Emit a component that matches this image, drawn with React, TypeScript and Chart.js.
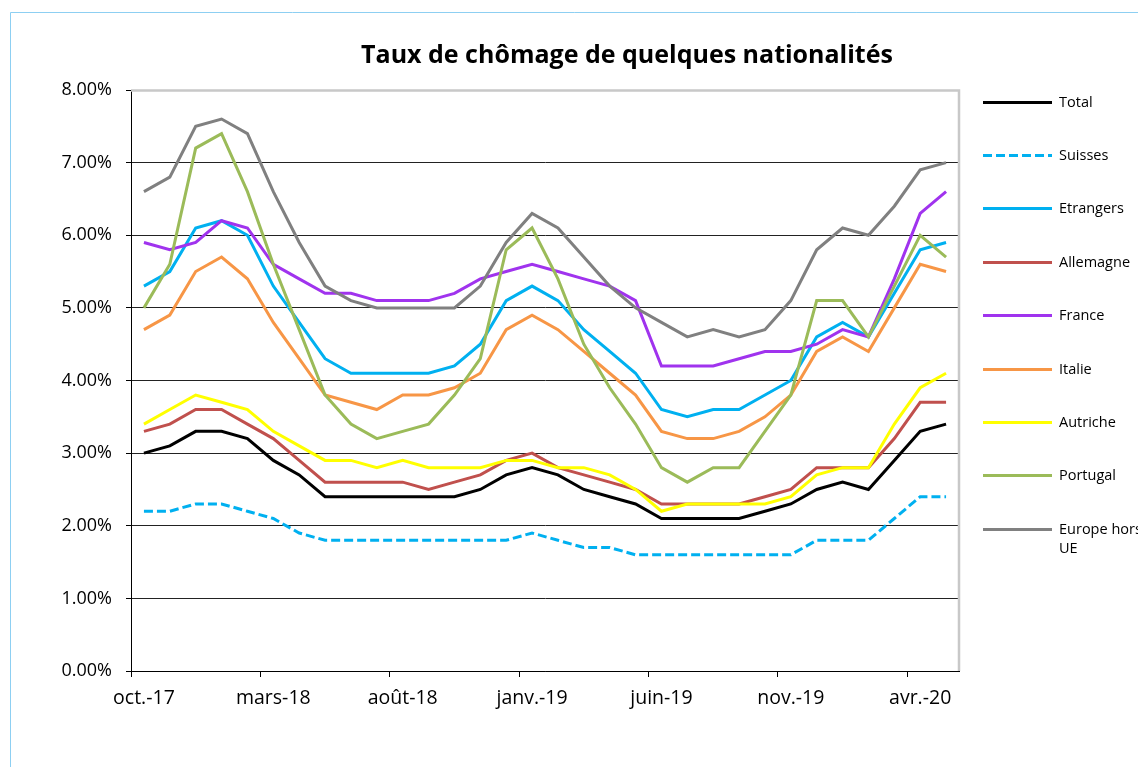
import React, { useEffect, useRef } from 'react';
import { Chart, registerables } from 'chart.js';

Chart.register(...registerables);

const months = [
  'oct.-17', 'nov.-17', 'déc.-17',
  'janv.-18', 'févr.-18', 'mars-18', 'avr.-18', 'mai-18', 'juin-18', 'juil.-18', 'août-18', 'sept.-18', 'oct.-18', 'nov.-18', 'déc.-18',
  'janv.-19', 'févr.-19', 'mars-19', 'avr.-19', 'mai-19', 'juin-19', 'juil.-19', 'août-19', 'sept.-19', 'oct.-19', 'nov.-19', 'déc.-19',
  'janv.-20', 'févr.-20', 'mars-20', 'avr.-20', 'mai-20',
];

const total = [3.0, 3.1, 3.3, 3.3, 3.2, 2.9, 2.7, 2.4, 2.4, 2.4, 2.4, 2.4, 2.4, 2.5, 2.7, 2.8, 2.7, 2.5, 2.4, 2.3, 2.1, 2.1, 2.1, 2.1, 2.2, 2.3, 2.5, 2.6, 2.5, 2.9, 3.3, 3.4];
const suisses = [2.2, 2.2, 2.3, 2.3, 2.2, 2.1, 1.9, 1.8, 1.8, 1.8, 1.8, 1.8, 1.8, 1.8, 1.8, 1.9, 1.8, 1.7, 1.7, 1.6, 1.6, 1.6, 1.6, 1.6, 1.6, 1.6, 1.8, 1.8, 1.8, 2.1, 2.4, 2.4];
const etrangers = [5.3, 5.5, 6.1, 6.2, 6.0, 5.3, 4.8, 4.3, 4.1, 4.1, 4.1, 4.1, 4.2, 4.5, 5.1, 5.3, 5.1, 4.7, 4.4, 4.1, 3.6, 3.5, 3.6, 3.6, 3.8, 4.0, 4.6, 4.8, 4.6, 5.2, 5.8, 5.9];
const allemagne = [3.3, 3.4, 3.6, 3.6, 3.4, 3.2, 2.9, 2.6, 2.6, 2.6, 2.6, 2.5, 2.6, 2.7, 2.9, 3.0, 2.8, 2.7, 2.6, 2.5, 2.3, 2.3, 2.3, 2.3, 2.4, 2.5, 2.8, 2.8, 2.8, 3.2, 3.7, 3.7];
const france = [5.9, 5.8, 5.9, 6.2, 6.1, 5.6, 5.4, 5.2, 5.2, 5.1, 5.1, 5.1, 5.2, 5.4, 5.5, 5.6, 5.5, 5.4, 5.3, 5.1, 4.2, 4.2, 4.2, 4.3, 4.4, 4.4, 4.5, 4.7, 4.6, 5.4, 6.3, 6.6];
const italie = [4.7, 4.9, 5.5, 5.7, 5.4, 4.8, 4.3, 3.8, 3.7, 3.6, 3.8, 3.8, 3.9, 4.1, 4.7, 4.9, 4.7, 4.4, 4.1, 3.8, 3.3, 3.2, 3.2, 3.3, 3.5, 3.8, 4.4, 4.6, 4.4, 5.0, 5.6, 5.5];
const autriche = [3.4, 3.6, 3.8, 3.7, 3.6, 3.3, 3.1, 2.9, 2.9, 2.8, 2.9, 2.8, 2.8, 2.8, 2.9, 2.9, 2.8, 2.8, 2.7, 2.5, 2.2, 2.3, 2.3, 2.3, 2.3, 2.4, 2.7, 2.8, 2.8, 3.4, 3.9, 4.1];
const portugal = [5.0, 5.6, 7.2, 7.4, 6.6, 5.6, 4.7, 3.8, 3.4, 3.2, 3.3, 3.4, 3.8, 4.3, 5.8, 6.1, 5.4, 4.5, 3.9, 3.4, 2.8, 2.6, 2.8, 2.8, 3.3, 3.8, 5.1, 5.1, 4.6, 5.3, 6.0, 5.7];
const europeHorsUE = [6.6, 6.8, 7.5, 7.6, 7.4, 6.6, 5.9, 5.3, 5.1, 5.0, 5.0, 5.0, 5.0, 5.3, 5.9, 6.3, 6.1, 5.7, 5.3, 5.0, 4.8, 4.6, 4.7, 4.6, 4.7, 5.1, 5.8, 6.1, 6.0, 6.4, 6.9, 7.0];

const seriesNames = ['Total', 'Suisses', 'Etrangers', 'Allemagne', 'France', 'Italie', 'Autriche', 'Portugal', 'Europe hors UE'];
const seriesValues = [total, suisses, etrangers, allemagne, france, italie, autriche, portugal, europeHorsUE];
const seriesColors = ['#000000', '#00B0F0', '#00B0F0', '#C0504D', '#A033EE', '#F79646', '#FFFF00', '#9BBB59', '#808080'];
const seriesDashes: number[][] = [[], [9, 4], [], [], [], [], [], [], []];
const legendLabels: string[][] = [['Total'], ['Suisses'], ['Etrangers'], ['Allemagne'], ['France'], ['Italie'], ['Autriche'], ['Portugal'], ['Europe hors', 'UE']];

const titleText = 'Taux de chômage de quelques nationalités';
const yTicks = { min: 0, max: 8, step: 1 };
const labelEvery = 5;

const FONT = "'Open Sans', 'Noto Sans', sans-serif";

const decorPlugin = {
  id: 'decor',
  beforeDraw(chart: any) {
    const ctx = chart.ctx;
    ctx.save();
    ctx.fillStyle = '#ffffff';
    ctx.fillRect(0, 0, chart.width, chart.height);
    ctx.strokeStyle = '#8DCFF2';
    ctx.lineWidth = 1;
    ctx.beginPath();
    ctx.moveTo(10.5, chart.height + 5);
    ctx.lineTo(10.5, 12.5);
    ctx.lineTo(chart.width + 5, 12.5);
    ctx.stroke();
    ctx.restore();
  },
  beforeDatasetsDraw(chart: any) {
    const ctx = chart.ctx;
    const a = chart.chartArea;
    ctx.save();
    ctx.strokeStyle = '#C8C8C8';
    ctx.lineWidth = 2.5;
    ctx.beginPath();
    ctx.moveTo(a.left, a.top + 0.5);
    ctx.lineTo(a.right, a.top + 0.5);
    ctx.lineTo(a.right, a.bottom);
    ctx.stroke();
    ctx.restore();
  },
  afterDraw(chart: any) {
    const ctx = chart.ctx;
    ctx.save();
    // title
    ctx.fillStyle = '#000';
    ctx.font = `bold 25px ${FONT}`;
    ctx.textAlign = 'center';
    ctx.textBaseline = 'alphabetic';
    ctx.fillText(titleText, 627, 63);
    // legend
    const x0 = 983, x1 = 1052, tx = 1059;
    const y0 = 101.5, dy = 53.4;
    ctx.font = `14.5px ${FONT}`;
    ctx.textAlign = 'left';
    ctx.textBaseline = 'middle';
    chart.data.datasets.forEach((ds: any, i: number) => {
      const y = Math.round(y0 + dy * i) + 0.5;
      ctx.strokeStyle = ds.borderColor;
      ctx.lineWidth = 3;
      ctx.setLineDash(ds.borderDash || []);
      ctx.beginPath();
      ctx.moveTo(x0, y);
      ctx.lineTo(x1, y);
      ctx.stroke();
      ctx.setLineDash([]);
      ctx.fillStyle = '#000';
      legendLabels[i].forEach((t, k) => ctx.fillText(t, tx, y + k * 19));
    });
    ctx.restore();
  },
};

export default function App() {
  const ref = useRef<HTMLCanvasElement | null>(null);
  useEffect(() => {
    if (!ref.current) return;
    const chart = new Chart(ref.current, {
      type: 'line',
      data: {
        labels: months,
        datasets: seriesValues.map((vals, i) => ({
          label: seriesNames[i],
          data: vals,
          borderColor: seriesColors[i],
          backgroundColor: seriesColors[i],
          borderWidth: 3,
          borderDash: seriesDashes[i],
          pointRadius: 0,
          tension: 0,
          fill: false,
          order: -i,
        })),
      },
      options: {
        animation: false,
        responsive: false,
        devicePixelRatio: 1,
        layout: { padding: { left: 0, top: 90, right: 179, bottom: 0 } },
        plugins: {
          legend: { display: false },
          title: { display: false },
          tooltip: { enabled: false },
        },
        scales: {
          x: {
            type: 'category',
            offset: true,
            afterFit: (s: any) => { s.height = 96; },
            grid: {
              offset: true,
              drawOnChartArea: false,
              drawTicks: true,
              tickLength: 6,
              color: (c: any) => (typeof c.index === 'number' && c.index % labelEvery === 0 ? '#000' : 'rgba(0,0,0,0)'),
              tickColor: (c: any) => (typeof c.index === 'number' && c.index % labelEvery === 0 ? '#000' : 'rgba(0,0,0,0)'),
              lineWidth: 1,
            },
            border: { display: true, color: '#000', width: 1 },
            ticks: {
              autoSkip: false,
              maxRotation: 0,
              minRotation: 0,
              padding: 10,
              color: '#000',
              font: { family: FONT, size: 19.5 },
              callback: (_v: any, i: number) => (i % labelEvery === 0 ? months[i] : ''),
            },
          },
          y: {
            min: yTicks.min,
            max: yTicks.max,
            afterFit: (s: any) => { s.width = 131; },
            grid: {
              color: (c: any) => (c.tick && c.tick.value === yTicks.max ? 'rgba(0,0,0,0)' : '#222'),
              tickColor: '#000',
              lineWidth: 1,
              tickWidth: 1,
              tickLength: 5,
            },
            border: { display: true, color: '#000', width: 1 },
            ticks: {
              stepSize: yTicks.step,
              padding: 14,
              color: '#000',
              font: { family: FONT, size: 18 },
              callback: (v: any) => Number(v).toFixed(2) + '%',
            },
          },
        },
      },
      plugins: [decorPlugin],
    } as any);
    return () => chart.destroy();
  }, []);
  return (
    <div style={{ position: 'absolute', left: 0, top: 0, width: 1138, height: 767 }}>
      <canvas ref={ref} width={1138} height={767} style={{ display: 'block', width: 1138, height: 767 }} />
    </div>
  );
}
